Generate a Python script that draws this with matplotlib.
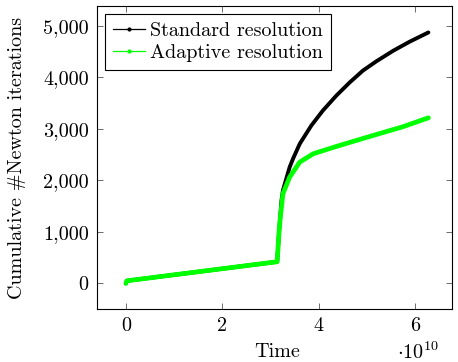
import matplotlib
matplotlib.use("Agg")
import matplotlib.pyplot as plt
from matplotlib.lines import Line2D
from matplotlib.ticker import FuncFormatter, FixedLocator

plt.rcParams['font.family'] = 'serif'
plt.rcParams['font.serif'] = ['cmr10', 'DejaVu Serif']
plt.rcParams['mathtext.fontset'] = 'cm'
plt.rcParams['axes.formatter.use_mathtext'] = True
plt.rcParams['axes.unicode_minus'] = False

# Time in units of 1e10
std_time = [0, 0.02, 3.14, 3.18, 3.23, 3.26, 3.33, 3.40, 3.47, 3.61, 3.85, 4.09, 4.37,
            4.65, 4.92, 5.20, 5.55, 5.89, 6.28]
std_iters = [0, 50, 420, 1000, 1612, 1806, 2033, 2257, 2420, 2710, 3064, 3355, 3645,
             3903, 4129, 4310, 4515, 4690, 4870]

ada_time = [0, 0.02, 3.14, 3.18, 3.20, 3.26, 3.40, 3.61, 3.89, 4.37, 5.06, 5.75, 6.28]
ada_iters = [0, 50, 420, 1000, 1225, 1742, 2064, 2354, 2516, 2658, 2851, 3040, 3213]

x_ticks = [0, 2, 4, 6]
y_ticks = [0, 1000, 2000, 3000, 4000, 5000]
series_labels = ["Standard resolution", "Adaptive resolution"]

FS = 14.5
W, H = 458, 362
fig = plt.figure(figsize=(W / 100, H / 100), dpi=100)
ax = fig.add_axes([97 / W, 1 - 309 / H, (452 - 97) / W, (309 - 6) / H])

black = '#000000'
green = '#00ff00'
ax.plot(std_time, std_iters, color=black, lw=2.8, solid_capstyle='round', solid_joinstyle='round')
ax.plot(ada_time, ada_iters, color=green, lw=3.4, solid_capstyle='round', solid_joinstyle='round')

ax.set_xlim(-0.6, 6.77)
ax.set_ylim(-497, 5383)
ax.xaxis.set_major_locator(FixedLocator(x_ticks))
ax.yaxis.set_major_locator(FixedLocator(y_ticks))
ax.xaxis.set_major_formatter(FuncFormatter(lambda v, p: f"{int(round(v))}"))
ax.yaxis.set_major_formatter(FuncFormatter(lambda v, p: f"{int(round(v)):,}"))
ax.tick_params(direction='in', length=4, width=0.6, color='#555555', labelsize=FS,
               top=True, right=True, pad=6)
for s in ax.spines.values():
    s.set_linewidth(0.8)

fig.text(17 / W, 1 - 158 / H, "Cumulative #Newton iterations", fontsize=FS,
         rotation=90, ha='center', va='center')
fig.text(277 / W, 1 - 352 / H, "Time", fontsize=FS, ha='center', va='center')
fig.text(418 / W, 1 - 352 / H, r"$\cdot 10^{10}$", fontsize=FS, ha='center', va='center')

handles = [Line2D([], [], color=black, lw=0.9, marker='o', ms=2),
           Line2D([], [], color=green, lw=0.9, marker='o', ms=2)]
leg = ax.legend(handles, series_labels, loc='upper left', fontsize=FS, frameon=True,
                fancybox=False, edgecolor='black', framealpha=1, borderaxespad=0.4,
                handlelength=1.6, handletextpad=0.25, borderpad=0.4, labelspacing=0.2)
leg.get_frame().set_linewidth(0.8)

fig.savefig("out.png", dpi=100)
